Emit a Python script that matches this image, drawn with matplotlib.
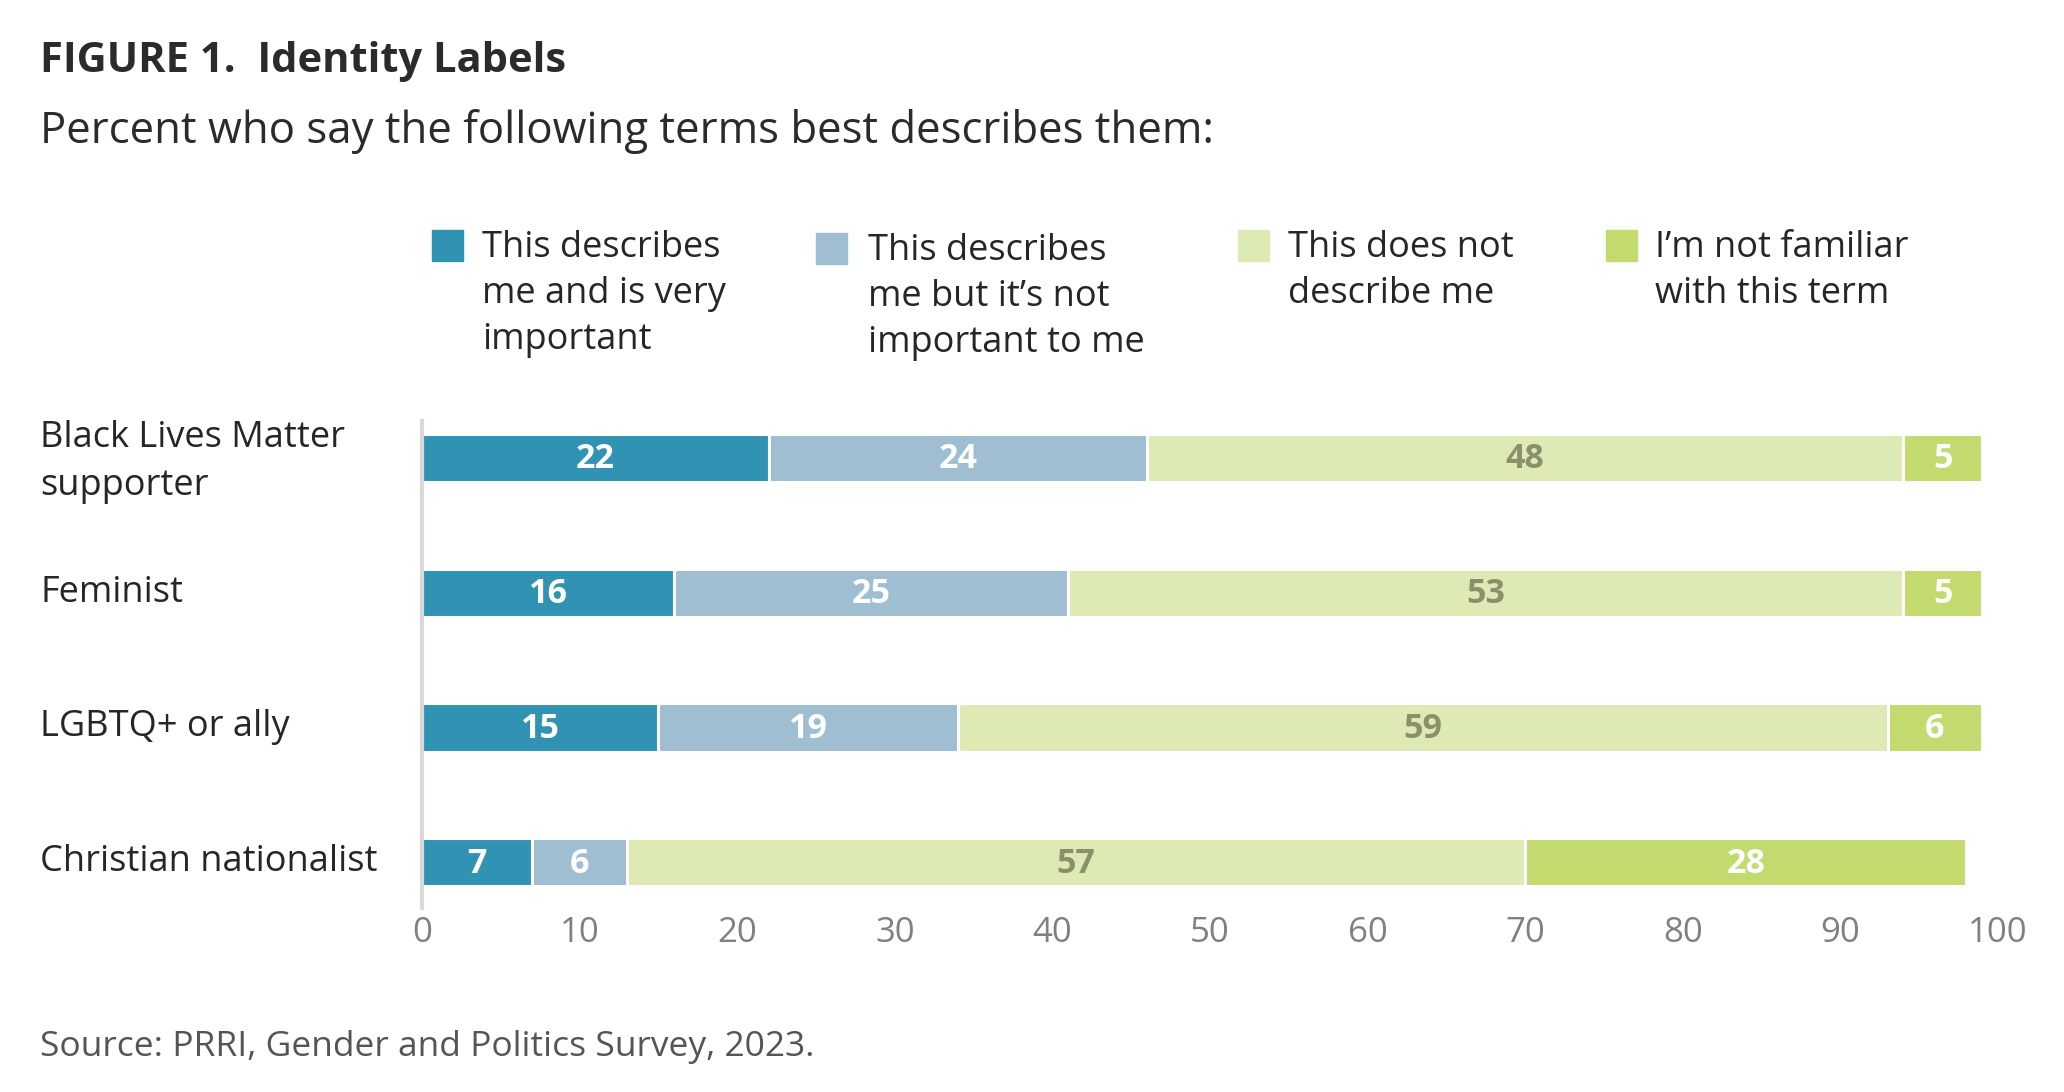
import matplotlib
matplotlib.use("Agg")
import matplotlib.pyplot as plt
from matplotlib.patches import Rectangle
import numpy as np

plt.rcParams['font.family'] = ['Open Sans', 'DejaVu Sans']

categories = ["Black Lives Matter\nsupporter", "Feminist", "LGBTQ+ or ally", "Christian nationalist"]
series_names = ["This describes\nme and is very\nimportant",
                "This describes\nme but it\u2019s not\nimportant to me",
                "This does not\ndescribe me",
                "I\u2019m not familiar\nwith this term"]
very_important = [22, 16, 15, 7]
not_important = [24, 25, 19, 6]
does_not_describe = [48, 53, 59, 57]
not_familiar = [5, 5, 6, 28]
xticks = [0, 10, 20, 30, 40, 50, 60, 70, 80, 90, 100]

colors = ["#3193B3", "#9FBED2", "#DEEAB4", "#C3DA6E"]
label_colors = ["white", "white", "#8C8F6C", "white"]

W, H = 2064, 1092
fig = plt.figure(figsize=(W / 100, H / 100), dpi=100)

def fx(px):
    return px / W

def fy(py):
    return 1 - py / H

# axes geometry
ax_left, ax_right = 422, 1998
ax_top, ax_bot = 421, 908
ax = fig.add_axes([fx(ax_left), fy(ax_bot), fx(ax_right) - fx(ax_left), fy(ax_top) - fy(ax_bot)])

series = [very_important, not_important, does_not_describe, not_familiar]
ypos = np.arange(len(categories))
left = np.zeros(len(categories))
for vals, col, lc in zip(series, colors, label_colors):
    vals = np.array(vals, dtype=float)
    ax.barh(ypos, vals, left=left, height=0.36, color=col, edgecolor="white", linewidth=2.2)
    for y, l, v in zip(ypos, left, vals):
        ax.text(l + v / 2, y + 0.01, f"{int(v)}", ha="center", va="center", color=lc,
                fontsize=24.5, fontweight="bold")
    left += vals

ax.set_xlim(0, 100)
ax.set_ylim(3.34, -0.275)
ax.set_xticks(xticks)
ax.set_xticklabels([str(t) for t in xticks])
ax.tick_params(axis="x", length=0, labelsize=25, labelcolor="#808080", pad=6)
ax.set_yticks([])
for s in ["top", "right", "bottom"]:
    ax.spines[s].set_visible(False)
ax.spines["left"].set_color("#D9D9D9")
ax.spines["left"].set_linewidth(3)

# category labels
for y, cat in zip(ypos, categories):
    ypix = ax.transData.transform((0, y))[1]
    yf = fig.transFigure.inverted().transform((0, ypix))[1]
    dy = 4 / H if "\n" in cat else 0
    fig.text(fx(40), yf - dy, cat, ha="left", va="center", fontsize=26, color="#262626",
             linespacing=1.45)

# title / subtitle / source
fig.text(fx(40), fy(61), "FIGURE 1.  Identity Labels", ha="left", va="center",
         fontsize=30, fontweight="bold", color="#2B2B2B")
fig.text(fx(40), fy(131), "Percent who say the following terms best describes them:",
         ha="left", va="center", fontsize=31.5, color="#2B2B2B")
fig.text(fx(40), fy(1047), "Source: PRRI, Gender and Politics Survey, 2023.",
         ha="left", va="center", fontsize=25.5, color="#555555")

# legend
sq_x = [432, 816, 1238, 1606]
txt_x = [482, 868, 1288, 1655]
y_off = [0, 3, 0, 0]
sq = 31
for i, name in enumerate(series_names):
    top = 230 + y_off[i]
    fig.patches.append(Rectangle((fx(sq_x[i]), fy(top + sq)), fx(sq), sq / H,
                                 transform=fig.transFigure, color=colors[i]))
    for j, line in enumerate(name.split("\n")):
        fig.text(fx(txt_x[i]), fy(248 + y_off[i] + j * 46), line, ha="left", va="center",
                 fontsize=26, color="#262626")

fig.savefig("out.png", dpi=100, facecolor="white")
